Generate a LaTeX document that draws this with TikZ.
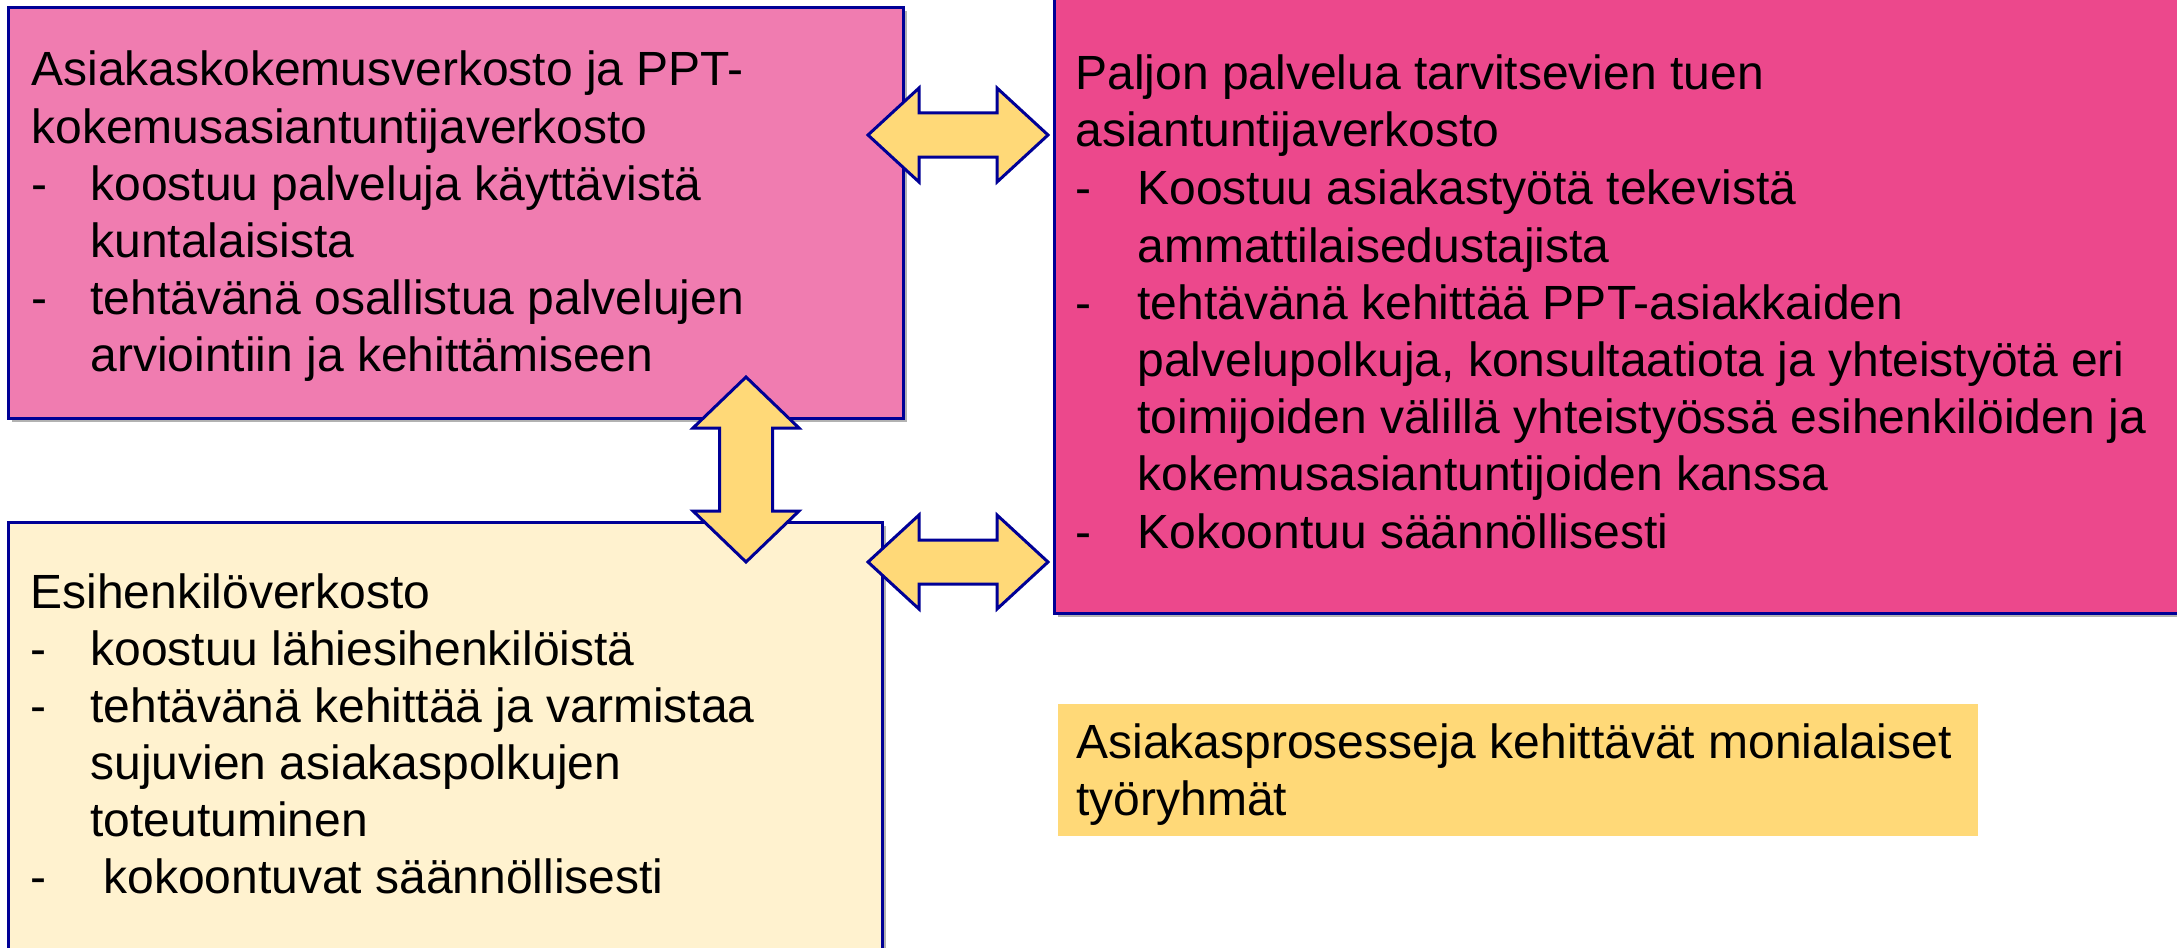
\documentclass[tikz,border=0pt]{standalone}
\usepackage{fontspec}
\setmainfont{Liberation Sans}
\usetikzlibrary{shadows}
\definecolor{pinkA}{HTML}{F07CB0}
\definecolor{pinkB}{HTML}{EC488C}
\definecolor{creamC}{HTML}{FFF2CF}
\definecolor{goldC}{HTML}{FFD978}
\definecolor{edgeC}{RGB}{0,0,150}
\tikzset{
  boxsty/.style={draw=edgeC, line width=1.5pt, inner sep=0pt, anchor=north west,
    drop shadow={shadow xshift=1.8pt, shadow yshift=-1.8pt, opacity=0.3, fill=black}},
  txt/.style={anchor=base west, inner sep=0pt, font=\fontsize{24}{28.5}\selectfont},
  arrsty/.style={draw=edgeC, fill=goldC, line width=1.5pt, line join=miter},
  harrow/.pic={\path[arrsty] (-90,0) -- (-39,-47) -- (-39,-22) -- (39,-22) -- (39,-47) -- (90,0)
      -- (39,47) -- (39,22) -- (-39,22) -- (-39,47) -- cycle;},
  varrow/.pic={\path[arrsty] (0,-92.5) -- (53,-41.5) -- (26.5,-41.5) -- (26.5,41.5) -- (53,41.5) -- (0,92.5)
      -- (-53,41.5) -- (-26.5,41.5) -- (-26.5,-41.5) -- (-53,-41.5) -- cycle;}
}
\newcommand{\tline}[4]{\node[txt] (#1) at (#2,#3) {#4};}
\begin{document}
\begin{tikzpicture}[x=0.5pt,y=-0.5pt]
\useasboundingbox (0,0) rectangle (2177,947);
\clip (0,0) rectangle (2177,947);
\fill[white] (0,0) rectangle (2177,947);
% boxes
\node[boxsty, fill=pinkA, minimum width=447.5pt, minimum height=205.5pt] (tl) at (7,6) {};
\node[boxsty, fill=pinkB, minimum width=580pt, minimum height=316pt] (rt) at (1053,-20) {};
\node[boxsty, fill=creamC, minimum width=437pt, minimum height=240pt] (bl) at (7,521) {};
\node[anchor=north west, inner sep=0pt, fill=goldC, minimum width=460pt, minimum height=66pt] (yl) at (1058,704) {};
% top-left text
\tline{tla}{31}{86}{Asiakaskokemusverkosto ja PPT-}
\tline{tlb}{31}{143}{kokemusasiantuntijaverkosto}
\tline{tlc}{31}{200}{-}
\tline{tld}{90}{200}{koostuu palveluja käyttävistä}
\tline{tle}{90}{257}{kuntalaisista}
\tline{tlf}{31}{314}{-}
\tline{tlg}{90}{314}{tehtävänä osallistua palvelujen}
\tline{tlh}{90}{371}{arviointiin ja kehittämiseen}
% right text
\tline{rta}{1075}{90}{Paljon palvelua tarvitsevien tuen}
\tline{rtb}{1075}{147}{asiantuntijaverkosto}
\tline{rtc}{1075}{204}{-}
\tline{rtd}{1137}{204}{Koostuu asiakastyötä tekevistä}
\tline{rte}{1137}{262}{ammattilaisedustajista}
\tline{rtf}{1075}{319}{-}
\tline{rtg}{1137}{319}{tehtävänä kehittää PPT-asiakkaiden}
\tline{rth}{1137}{376}{palvelupolkuja, konsultaatiota ja yhteistyötä eri}
\tline{rti}{1137}{433}{toimijoiden välillä yhteistyössä esihenkilöiden ja}
\tline{rtj}{1137}{490}{kokemusasiantuntijoiden kanssa}
\tline{rtk}{1075}{548}{-}
\tline{rtl}{1137}{548}{Kokoontuu säännöllisesti}
% bottom-left text
\tline{bla}{30}{608}{Esihenkilöverkosto}
\tline{blb}{30}{665}{-}
\tline{blc}{90}{665}{koostuu lähiesihenkilöistä}
\tline{bld}{30}{722}{-}
\tline{ble}{90}{722}{tehtävänä kehittää ja varmistaa}
\tline{blf}{90}{779}{sujuvien asiakaspolkujen}
\tline{blg}{90}{836}{toteutuminen}
\tline{blh}{30}{893}{-}
\tline{bli}{103}{893}{kokoontuvat säännöllisesti}
% yellow text
\tline{yla}{1076}{758}{Asiakasprosesseja kehittävät monialaiset}
\tline{ylb}{1076}{815}{työryhmät}
% arrows
\pic at (958,135) {harrow};
\pic at (958,562) {harrow};
\pic at (746,469.5) {varrow};
\end{tikzpicture}
\end{document}
